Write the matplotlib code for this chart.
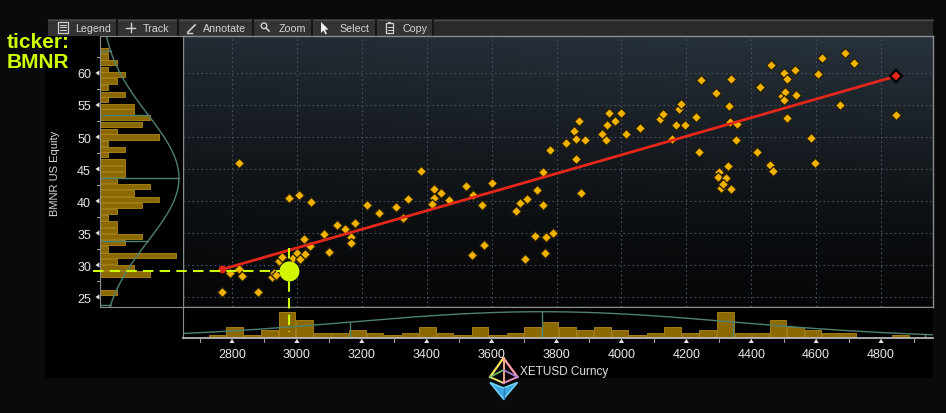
import numpy as np
import matplotlib
matplotlib.use("Agg")
import matplotlib.pyplot as plt
from matplotlib import font_manager
from matplotlib.patches import Rectangle, Polygon, Circle

# ---------------- data ----------------
eth_x = [2768, 2879, 2794, 2822, 2831, 2822, 2922, 2929, 2936, 2945,
         2953, 2988, 3000, 3009, 3025, 3039, 3023, 2977, 3007, 3044,
         3083, 3099, 3125, 3149, 3179, 3167, 3167, 3215, 3253, 3304,
         3342, 3326, 3382, 3423, 3423, 3417, 3443, 3469, 3521, 3542,
         3570, 3601, 3541, 3577, 3676, 3687, 3709, 3739, 3758, 3757,
         3781, 3735, 3769, 3789, 3765, 3702, 3830, 3859, 3875, 3853,
         3859, 3870, 3888, 3939, 3953, 3956, 3963, 3980, 3999, 4013,
         4057, 4119, 4129, 4157, 4178, 4185, 4167, 4195, 4229, 4244,
         4240, 4290, 4337, 4332, 4335, 4355, 4352, 4329, 4302, 4296,
         4322, 4306, 4338, 4314, 4417, 4427, 4461, 4502, 4511, 4536,
         4494, 4504, 4501, 4537, 4511, 4457, 4466, 4585, 4595, 4605,
         4619, 4672, 4689, 4718, 4846]
bmnr_y = [25.8, 25.8, 28.75, 29.3, 28.3, 46.0, 28.2, 28.75, 28.4, 30.7,
          31.25, 31.1, 31.9, 30.9, 31.7, 33.0, 34.0, 40.5, 40.9, 39.9,
          34.8, 32.1, 36.25, 35.7, 36.5, 34.4, 33.5, 39.4, 38.2, 39.1,
          40.3, 37.3, 44.7, 41.8, 40.5, 39.5, 41.3, 40.2, 42.3, 41.0,
          39.4, 42.8, 31.6, 33.2, 38.4, 39.7, 40.3, 41.7, 39.4, 44.5,
          48.0, 34.5, 34.3, 35.0, 31.9, 31.0, 49.1, 46.6, 41.2, 51.0,
          49.7, 52.5, 49.5, 50.4, 49.6, 51.8, 53.75, 52.45, 53.75, 50.4,
          51.4, 52.8, 53.6, 49.7, 54.4, 55.1, 51.8, 51.8, 53.1, 58.9,
          47.7, 56.8, 59.0, 54.8, 52.3, 52.0, 49.5, 45.5, 44.5, 43.7,
          43.6, 42.1, 41.9, 42.65, 47.7, 57.8, 61.25, 60.0, 59.1, 60.4,
          56.45, 57.1, 55.8, 56.6, 53.0, 45.6, 44.7, 49.9, 45.9, 59.9,
          62.3, 55.0, 63.1, 61.6, 53.4]
latest_x = 4846
latest_y = 59.5
trend_x = [2768, 4846]
trend_y = [29.3, 59.5]
cursor_x = 2977
cursor_y = 29.0

xhist_centers = [2754, 2808, 2862, 2916, 2970, 3024, 3078, 3132, 3186, 3240,
                 3294, 3348, 3402, 3456, 3510, 3564, 3618, 3672, 3726, 3780,
                 3834, 3888, 3942, 3996, 4050, 4104, 4158, 4212, 4266, 4320,
                 4374, 4428, 4482, 4536, 4590, 4644, 4698, 4752, 4806, 4860]
xhist_counts = [1, 4, 1, 3, 10, 7, 2, 2, 3, 2,
                1, 2, 4, 2, 1, 4, 1, 2, 4, 6,
                4, 3, 4, 3, 1, 2, 4, 2, 3, 10,
                2, 2, 7, 4, 3, 2, 2, 0, 0, 1]
yhist_centers = [63.5, 62.5, 61.6, 60.6, 59.7, 58.75, 57.7, 56.7, 55.8, 54.8,
                 53.9, 53.0, 51.9, 50.9, 50.0, 49.0, 48.1, 47.2, 46.1, 45.1,
                 44.1, 43.2, 42.2, 41.25, 40.3, 39.3, 38.3, 37.4, 36.4, 35.4,
                 34.45, 33.5, 32.5, 31.5, 30.6, 29.6, 28.6, 27.7, 26.7, 25.7]
yhist_counts = [1, 1, 2, 1, 3, 2, 1, 3, 1, 4,
                4, 6, 5, 2, 7, 1, 3, 1, 3, 3,
                3, 2, 6, 4, 7, 5, 2, 1, 2, 2,
                5, 3, 1, 9, 2, 4, 6, 0, 0, 2]
x_fit_mean, x_fit_sd, x_fit_peak = 3755, 590, 10.0
y_fit_mean, y_fit_sd, y_fit_peak = 43.6, 9.9, 9.4

xticks = [2800, 3000, 3200, 3400, 3600, 3800, 4000, 4200, 4400, 4600, 4800]
xminor = [2700, 2900, 3100, 3300, 3500, 3700, 3900, 4100, 4300, 4500, 4700, 4900]
yticks = [25, 30, 35, 40, 45, 50, 55, 60]
yminor = [27.5, 32.5, 37.5, 42.5, 47.5, 52.5, 57.5, 62.5]
toolbar_labels = ["Legend", "Track", "Annotate", "Zoom", "Select", "Copy"]

# ---------------- styling ----------------
W, H, DPI = 946, 414, 100
names = {f.name for f in font_manager.fontManager.ttflist}
NARROW = "Liberation Sans Narrow" if "Liberation Sans Narrow" in names else "Liberation Sans"
SANS = "Liberation Sans"
XLIM = (2649, 4960)
YLIM = (23.44, 65.78)
BAR_FC = "#8c6900"
BAR_EC = "#b08a1c"
CURVE = "#4f8170"
SPINE = "#8c8c8c"
LIME = "#ccff00"

fig = plt.figure(figsize=(W / DPI, H / DPI), dpi=DPI, facecolor="#0a0a0a")


def box(l, t, r, b):
    return [l / W, 1 - b / H, (r - l) / W, (b - t) / H]


# background / chrome layer (pixel coordinates, y down)
bg = fig.add_axes([0, 0, 1, 1], zorder=-1)
bg.set_xlim(0, W)
bg.set_ylim(H, 0)
bg.axis("off")
bg.add_patch(Rectangle((45, 37), 888, 342, fc="black", ec="none"))
bg.add_patch(Rectangle((48, 20), 885, 17, fc="#2a2a2a", ec="none"))
bg.add_patch(Rectangle((48, 20), 385, 17, fc="#333333", ec="none"))
bg.plot([48, 933], [20.5, 20.5], color="#4a4a4a", lw=1)
for sx in [117, 178, 253, 312, 376, 433]:
    bg.plot([sx, sx], [20, 37], color="#161616", lw=1.5)
tb_x = [75, 143, 203, 279, 339, 402]
for lab, tx in zip(toolbar_labels, tb_x):
    bg.text(tx, 28.8, lab, fontsize=7.7, family=SANS, color="#d4d4d4",
            ha="left", va="center")
ic = "#d0d0d0"
# Legend icon
bg.add_patch(Rectangle((57.5, 22.5), 10, 11, fill=False, ec=ic, lw=0.9))
for yy_ in (25.5, 28.0, 30.5):
    bg.plot([59.5, 65.5], [yy_, yy_], color=ic, lw=0.8)
# Track icon
bg.plot([126, 135], [28.5, 28.5], color=ic, lw=1.0)
bg.plot([130.5, 130.5], [24, 33], color=ic, lw=1.0)
# Annotate icon
bg.plot([188, 195], [33, 26], color=ic, lw=1.2)
bg.plot([187, 192], [33.5, 33.5], color=ic, lw=1.0)
# Zoom icon
bg.add_patch(Circle((264, 26.8), 2.8, fill=False, ec=ic, lw=1.0))
bg.plot([266, 269], [29, 32], color=ic, lw=1.2)
# Select icon
bg.add_patch(Polygon([(321, 23), (321, 34), (323.5, 31.5), (325.5, 35.5),
                      (327, 34.8), (325, 30.8), (328.5, 30.5)],
                     closed=True, fc="#f0f0f0", ec="none"))
# Copy icon
bg.add_patch(Rectangle((386, 24), 7, 10, fill=False, ec=ic, lw=0.9))
bg.add_patch(Rectangle((388, 22.5), 3, 2.5, fill=True, fc=ic, ec="none"))
for yy_ in (28, 30.5):
    bg.plot([387.5, 391.5], [yy_, yy_], color=ic, lw=0.7)

# ticker annotation
bg.text(7, 48, "ticker:", fontsize=15, weight="bold", family=SANS, color=LIME,
        ha="left", va="baseline")
bg.text(7, 68, "BMNR", fontsize=15, weight="bold", family=SANS, color=LIME,
        ha="left", va="baseline")
# y axis title
bg.text(55, 173, "BMNR US Equity", fontsize=8, family=SANS, color="#d8d8d8",
        rotation=90, ha="center", va="center")

# ---------------- main scatter ----------------
ax = fig.add_axes(box(183, 37, 933, 308), zorder=1)
ny, nx = 200, 300
v = np.linspace(1, 0, ny)[:, None]
hz = np.linspace(0, 1, nx)[None, :]
top = np.array([0.16, 0.20, 0.24])
bot = np.array([0.02, 0.025, 0.03])
t = (v ** 1.3) * (0.82 + 0.18 * hz)
img = bot + (top - bot) * t[..., None]
ax.imshow(img, extent=[XLIM[0], XLIM[1], YLIM[0], YLIM[1]], aspect="auto",
          origin="upper", zorder=0)
ax.set_xlim(*XLIM)
ax.set_ylim(*YLIM)
ax.set_xticks(xticks)
ax.set_yticks(yticks)
ax.grid(True, color="#46505b", linestyle=(0, (1.5, 2.5)), linewidth=0.8)
ax.tick_params(length=0, labelbottom=False, labelleft=False)
for s in ax.spines.values():
    s.set_color(SPINE)
    s.set_linewidth(1)
ax.plot(trend_x, trend_y, color="#e3281b", lw=2.0, zorder=4, solid_capstyle="round")
ax.plot(eth_x, bmnr_y, "D", ms=4.8, mfc="#f2b300", mec="#2a1f00", mew=0.9, zorder=3)
ax.plot(trend_x[:1], trend_y[:1], "o", ms=4.5, color="#e3281b", zorder=5)
ax.plot([latest_x], [latest_y], "D", ms=6, mfc="#e3281b", mec="black", mew=1.6, zorder=5)

# ---------------- left histogram ----------------
axL = fig.add_axes(box(100, 37, 183, 308), zorder=1, facecolor="black")
axL.set_ylim(*YLIM)
axL.set_xlim(0, 83 / 8.4)
axL.barh(yhist_centers, yhist_counts, height=0.8, color=BAR_FC, edgecolor=BAR_EC, lw=0.6)
yy = np.linspace(YLIM[0], YLIM[1], 400)
yc = y_fit_peak * np.exp(-0.5 * ((yy - y_fit_mean) / y_fit_sd) ** 2)
axL.plot(yc, yy, color=CURVE, lw=1.0)
for k in (-2, -1, 0, 1, 2):
    lv = y_fit_mean + k * y_fit_sd
    if YLIM[0] < lv < YLIM[1]:
        axL.plot([0, y_fit_peak * np.exp(-0.5 * k * k)], [lv, lv], color=CURVE, lw=1.0)
axL.set_xticks([])
axL.set_yticks(yticks)
axL.set_yticklabels([str(y) for y in yticks])
axL.tick_params(axis="y", length=0, pad=6.5, labelsize=9, labelcolor="#e8e8e8")
for lab in axL.get_yticklabels():
    lab.set_fontfamily(NARROW)
axL.spines["right"].set_visible(False)
for sname in ("left", "top", "bottom"):
    axL.spines[sname].set_color(SPINE)

# ---------------- bottom histogram ----------------
axB = fig.add_axes(box(183, 308, 933, 339), zorder=1, facecolor="black")
axB.set_xlim(*XLIM)
axB.set_ylim(0, 31 / 2.63)
axB.bar(xhist_centers, xhist_counts, width=51, color=BAR_FC, edgecolor=BAR_EC, lw=0.6)
xx = np.linspace(XLIM[0], XLIM[1], 400)
xc = x_fit_peak * np.exp(-0.5 * ((xx - x_fit_mean) / x_fit_sd) ** 2)
axB.plot(xx, xc, color=CURVE, lw=1.0)
for k in (-2, -1, 0, 1, 2):
    lv = x_fit_mean + k * x_fit_sd
    if XLIM[0] < lv < XLIM[1]:
        axB.plot([lv, lv], [0, x_fit_peak * np.exp(-0.5 * k * k)], color=CURVE, lw=1.0)
axB.set_yticks([])
axB.set_xticks(xticks)
axB.set_xticklabels([str(x) for x in xticks])
axB.tick_params(axis="x", length=0, pad=7, labelsize=9, labelcolor="#e8e8e8")
for lab in axB.get_xticklabels():
    lab.set_fontfamily(NARROW)
axB.spines["right"].set_visible(False)
axB.spines["left"].set_color(SPINE)
axB.spines["top"].set_color(SPINE)
axB.spines["bottom"].set_color("#c4c4c4")
axB.spines["bottom"].set_linewidth(1.2)

# ---------------- overlay (pixel coordinates, y down) ----------------
ov = fig.add_axes([0, 0, 1, 1], zorder=5)
ov.set_xlim(0, W)
ov.set_ylim(H, 0)
ov.axis("off")
ov.patch.set_visible(False)


def P(axis, x, y):
    X, Y = axis.transData.transform((x, y))
    return X, H - Y


TRI = "#e4e4e4"
for xv in xticks:
    X, Y0 = P(axB, xv, 0)
    ov.add_patch(Polygon([(X, Y0 + 0.8), (X - 2.6, Y0 + 5), (X + 2.6, Y0 + 5)],
                         closed=True, fc=TRI, ec="none"))
for xv in xminor:
    X, Y0 = P(axB, xv, 0)
    ov.plot([X, X], [Y0, Y0 + 4], color="#9a9a9a", lw=0.8)
for yv in yticks:
    X0, Y = P(axL, 0, yv)
    ov.add_patch(Polygon([(X0 - 0.6, Y - 2.6), (X0 - 0.6, Y + 2.6), (X0 - 4.6, Y)],
                         closed=True, fc=TRI, ec="none"))
for yv in yminor:
    X0, Y = P(axL, 0, yv)
    ov.plot([X0 - 3.5, X0], [Y, Y], color="#9a9a9a", lw=0.8)

# crosshair at the tracked point
Xd, Yd = P(ax, cursor_x, cursor_y)
ov.plot([93, Xd], [Yd, Yd], color=LIME, lw=1.5, dashes=(5, 3))
ov.plot([Xd, Xd], [Yd - 23, 333], color=LIME, lw=1.5, dashes=(5, 3))
ov.add_patch(Circle((Xd, Yd), 10, fc="#d2f500", ec="none", zorder=6))

# x axis title with ether logo
ov.text(520, 372, "XETUSD Curncy", fontsize=8.5, family=NARROW, color="#e0e0e0",
        ha="left", va="center")
apex = (503.5, 359)
Lv, Rv = (490, 378), (517.5, 378)
Fv, Bk = (503.5, 384), (503.5, 371)
L2, R2, F2, bt = (490, 383.5), (517.5, 383.5), (503.5, 389), (503.5, 400)
ov.add_patch(Polygon([L2, F2, R2, bt], closed=True, fc="#3aa4dd", ec="#6fd0f5", lw=1.2))
ov.plot([F2[0], bt[0]], [F2[1], bt[1]], color="#2f7fc4", lw=1.0)
ov.plot([apex[0], Lv[0]], [apex[1], Lv[1]], color="#ffe25c", lw=1.6)
ov.plot([apex[0], Rv[0]], [apex[1], Rv[1]], color="#ff9fb0", lw=1.6)
ov.plot([apex[0], Fv[0]], [apex[1], Fv[1]], color="#f7a88a", lw=1.4)
ov.plot([Lv[0], Fv[0]], [Lv[1], Fv[1]], color="#e8e070", lw=1.4)
ov.plot([Rv[0], Fv[0]], [Rv[1], Fv[1]], color="#e58fc0", lw=1.4)
ov.plot([Lv[0], Bk[0]], [Lv[1], Bk[1]], color="#6cc46b", lw=1.2)
ov.plot([Rv[0], Bk[0]], [Rv[1], Bk[1]], color="#b386e0", lw=1.2)

fig.savefig("out.png", dpi=DPI, facecolor=fig.get_facecolor())
